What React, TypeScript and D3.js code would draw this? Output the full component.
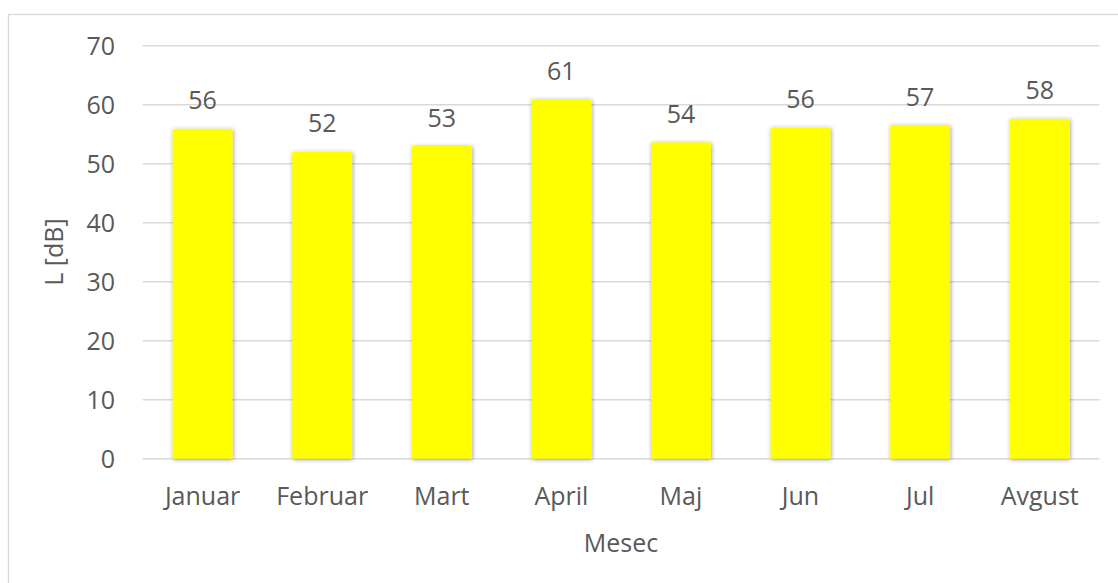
import React from "react";
import * as d3 from "d3";

const months = ["Januar", "Februar", "Mart", "April", "Maj", "Jun", "Jul", "Avgust"];
const levels = [55.9, 52.0, 53.0, 60.9, 53.6, 56.1, 56.5, 57.6];
const yTicks = [0, 10, 20, 30, 40, 50, 60, 70];

const W = 1118;
const H = 583;
const FONT = "'Open Sans', sans-serif";
const TEXT = "#595959";
const FS = 25;

const App: React.FC = () => {
  const x = d3
    .scaleBand<string>()
    .domain(months)
    .range([142.8, 1099.5])
    .paddingInner(0.5)
    .paddingOuter(0.25);
  const y = d3.scaleLinear().domain([0, 70]).range([458.7, 45.7]);

  return (
    <svg
      width={W}
      height={H}
      style={{ position: "absolute", left: 0, top: 0, background: "#fff" }}
      fontFamily={FONT}
    >
      <defs>
        <filter id="bar-shadow" x="-20%" y="-10%" width="140%" height="120%">
          <feDropShadow dx={0.8} dy={0.8} stdDeviation={2} floodColor="#000" floodOpacity={0.4} />
        </filter>
      </defs>
      {/* outer chart border (cropped on right/bottom) */}
      <rect x={8.5} y={14.5} width={1300} height={800} fill="none" stroke="#d9d9d9" strokeWidth={1.3} />

      {/* gridlines */}
      {yTicks.map((t) => (
        <line
          key={t}
          x1={142.8}
          x2={1099.5}
          y1={y(t)}
          y2={y(t)}
          stroke="#d9d9d9"
          strokeWidth={1.5}
        />
      ))}

      {/* y tick labels */}
      {yTicks.map((t) => (
        <text key={t} x={115} y={y(t) + 9.3} textAnchor="end" fontSize={FS} fill={TEXT}>
          {t}
        </text>
      ))}

      {/* bars */}
      {months.map((m, i) => (
        <rect
          key={m}
          x={x(m)}
          y={y(levels[i])}
          width={x.bandwidth()}
          height={y(0) - y(levels[i])}
          fill="#ffff00"
          filter="url(#bar-shadow)"
        />
      ))}

      {/* value labels */}
      {months.map((m, i) => (
        <text
          key={m}
          x={(x(m) as number) + x.bandwidth() / 2}
          y={y(levels[i]) - 19.5}
          textAnchor="middle"
          fontSize={FS}
          fill={TEXT}
        >
          {Math.round(levels[i])}
        </text>
      ))}

      {/* x tick labels */}
      {months.map((m) => (
        <text
          key={m}
          x={(x(m) as number) + x.bandwidth() / 2}
          y={505}
          textAnchor="middle"
          fontSize={FS}
          fill={TEXT}
        >
          {m}
        </text>
      ))}

      {/* axis titles */}
      <text x={621} y={552} textAnchor="middle" fontSize={FS} fill={TEXT}>
        Mesec
      </text>
      <text
        transform="translate(63,252) rotate(-90)"
        textAnchor="middle"
        fontSize={FS}
        fill={TEXT}
      >
        L [dB]
      </text>
    </svg>
  );
};

export default App;
